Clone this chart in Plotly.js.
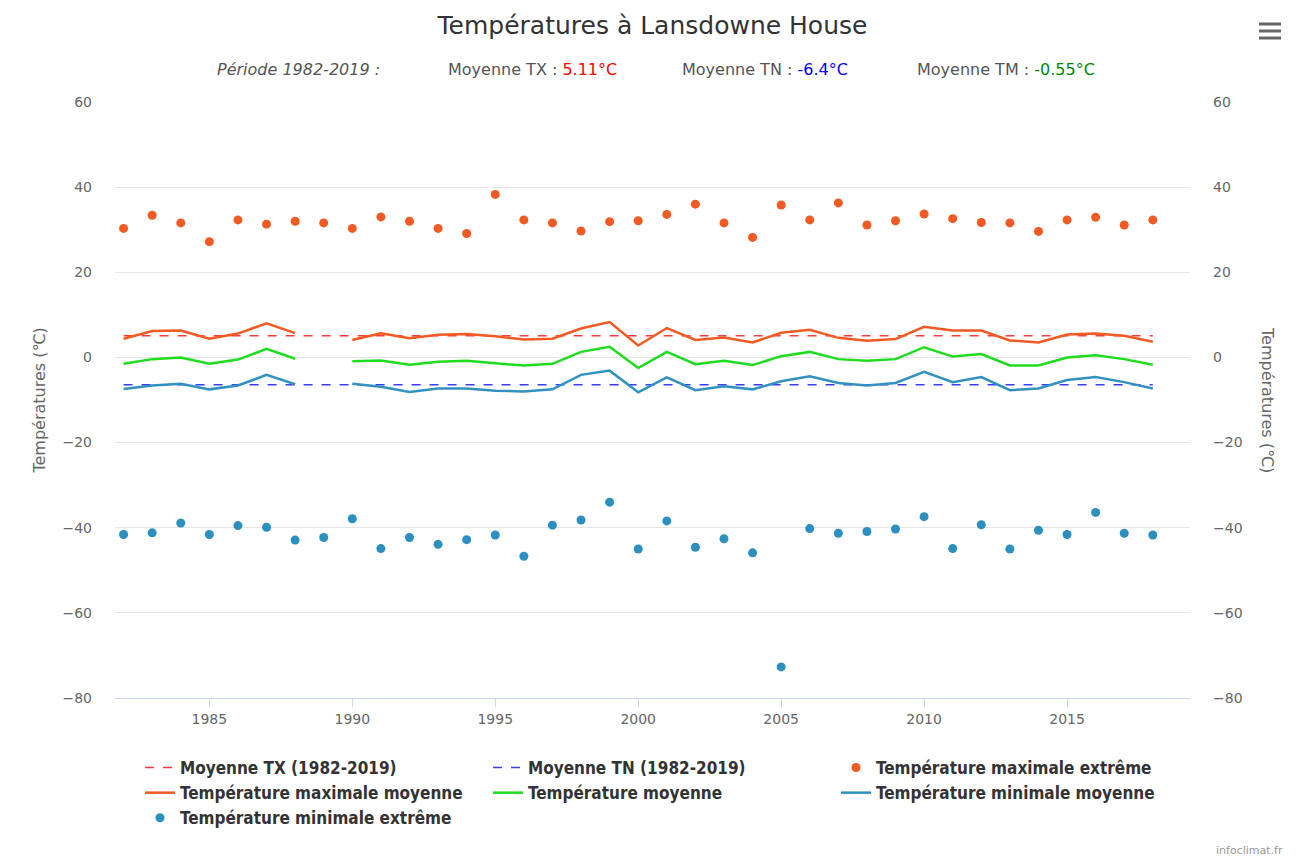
<!DOCTYPE html>
<html>
<head>
<meta charset="utf-8">
<script src="https://cdn.plot.ly/plotly-3.0.1.min.js"></script>
<style>
html,body{margin:0;padding:0;background:#fff;}
#chart{width:1298px;height:857px;}
</style>
</head>
<body>
<div id="chart"></div>
<script>
const years = [1982,1983,1984,1985,1986,1987,1988,1989,1990,1991,1992,1993,1994,1995,1996,1997,1998,1999,2000,2001,2002,2003,2004,2005,2006,2007,2008,2009,2010,2011,2012,2013,2014,2015,2016,2017,2018];

const txExtreme = [30.3,33.4,31.6,27.2,32.3,31.3,32.0,31.6,30.3,33.0,32.0,30.3,29.1,38.3,32.3,31.6,29.7,31.9,32.1,33.6,36.0,31.6,28.2,35.8,32.3,36.3,31.1,32.1,33.7,32.6,31.7,31.6,29.6,32.3,32.9,31.1,32.3];

const txMean = [4.4,6.2,6.3,4.4,5.6,8.0,5.7,null,4.1,5.7,4.5,5.3,5.5,5.0,4.2,4.4,6.8,8.3,2.8,6.9,4.1,4.7,3.5,5.8,6.5,4.6,3.9,4.3,7.2,6.3,6.3,4.0,3.5,5.4,5.6,5.1,3.7];

const tmMean = [-1.5,-0.4,0.0,-1.5,-0.5,2.0,-0.3,null,-0.9,-0.7,-1.7,-1.0,-0.8,-1.4,-1.9,-1.5,1.3,2.5,-2.5,1.3,-1.6,-0.8,-1.8,0.3,1.3,-0.4,-0.8,-0.4,2.4,0.2,0.8,-1.9,-1.9,0.0,0.5,-0.4,-1.7];

const tnMean = [-7.4,-6.6,-6.2,-7.5,-6.6,-4.1,-6.3,null,-6.2,-6.9,-8.1,-7.3,-7.3,-7.8,-8.0,-7.5,-4.1,-3.1,-8.2,-4.7,-7.7,-6.8,-7.5,-5.6,-4.4,-6.0,-6.6,-6.0,-3.4,-5.8,-4.6,-7.7,-7.3,-5.3,-4.6,-5.8,-7.3];

const tnExtreme = [-41.6,-41.2,-38.9,-41.6,-39.5,-39.9,-42.9,-42.3,-37.9,-44.9,-42.3,-43.9,-42.8,-41.7,-46.7,-39.4,-38.2,-34.0,-45.0,-38.4,-44.6,-42.6,-45.9,-72.7,-40.2,-41.3,-40.9,-40.3,-37.4,-44.9,-39.3,-45.0,-40.6,-41.6,-36.4,-41.3,-41.7];

const periodLabel = "Période 1982-2019 :";
const meanTX = 5.11;
const meanTN = -6.4;
const meanTM = -0.55;

const yTicks = [-80,-60,-40,-20,0,20,40,60];
const xTicks = [1985,1990,1995,2000,2005,2010,2015];

const meanTXLine = years.map(() => meanTX);
const meanTNLine = years.map(() => meanTN);

// pixel helpers (plot area 115..1190 x, 102..698 y)
const L = 115, R = 1190, T = 102, B = 698;
const px = x => (x - L) / (R - L);
const py = y => (B - y) / (B - T);

const FONT = '"DejaVu Sans", "Open Sans", sans-serif';
const CFONT = '"DejaVu Sans Condensed", "DejaVu Sans", sans-serif';

const traces = [
  {x: years, y: meanTXLine, name: 'Moyenne TX (1982-2019)', mode: 'lines',
   line: {color: '#ff3b3b', width: 1.5, dash: 'dash'}},
  {x: years, y: meanTNLine, name: 'Moyenne TN (1982-2019)', mode: 'lines',
   line: {color: '#3b3bff', width: 1.5, dash: 'dash'}},
  {x: years, y: txExtreme, name: 'Température maximale extrême', mode: 'markers',
   marker: {color: '#f15a22', size: 9}},
  {x: years, y: txMean, name: 'Température maximale moyenne', mode: 'lines',
   line: {color: '#f15a22', width: 2.5}, connectgaps: false},
  {x: years, y: tmMean, name: 'Température moyenne', mode: 'lines',
   line: {color: '#1fdc1f', width: 2.5}, connectgaps: false},
  {x: years, y: tnMean, name: 'Température minimale moyenne', mode: 'lines',
   line: {color: '#3191c0', width: 2.5}, connectgaps: false},
  {x: years, y: tnExtreme, name: 'Température minimale extrême', mode: 'markers',
   marker: {color: '#2b8fc0', size: 9}},
  {x: years, y: tnExtreme, yaxis: 'y2', mode: 'markers', showlegend: false,
   marker: {opacity: 0}, hoverinfo: 'skip'}
];

const subFont = {family: FONT, size: 16, color: '#555'};
const negLabel = v => v < 0 ? '−' + Math.abs(v) : String(v);
const subAnn = (x, text) => ({xref: 'paper', yref: 'paper', x: px(x), y: py(69), xanchor: 'center', yanchor: 'middle',
                              text: text, showarrow: false, font: subFont});

const layout = {
  width: 1298, height: 857,
  paper_bgcolor: '#fff', plot_bgcolor: '#fff',
  margin: {l: L, r: 1298 - R, t: T, b: 857 - B},
  title: {text: 'Températures à Lansdowne House', x: 0.5, xref: 'paper', y: 1 - 25/857, yanchor: 'middle',
          font: {family: FONT, size: 25, color: '#333'}},
  showlegend: true,
  xaxis: {range: [1981.7, 2019.3], tickvals: xTicks, ticktext: xTicks.map(String),
          showgrid: false, zeroline: false, showline: true, linecolor: '#ccd6eb', linewidth: 1,
          ticks: 'outside', ticklen: 8, tickcolor: '#ccd6eb',
          tickfont: {family: FONT, size: 14, color: '#666'}},
  yaxis: {range: [-80, 60], tickvals: yTicks, ticktext: yTicks.map(negLabel),
          showgrid: true, gridcolor: '#e6e6e6', zeroline: false, showline: false,
          ticks: '', ticklabelstandoff: 22,
          tickfont: {family: FONT, size: 14, color: '#666'},
          title: {text: 'Températures (℃)', font: {family: FONT, size: 16, color: '#666'}, standoff: 12}},
  yaxis2: {range: [-80, 60], overlaying: 'y', side: 'right', tickvals: yTicks,
          ticktext: yTicks.map(negLabel),
          showgrid: false, zeroline: false, showline: false, ticks: '', ticklabelstandoff: 22,
          tickfont: {family: FONT, size: 14, color: '#666'}},
  legend: {orientation: 'h', x: px(140), xanchor: 'left', yref: 'container', y: 1 - 750/857, yanchor: 'top',
           entrywidth: 303, entrywidthmode: 'pixels', tracegroupgap: 0,
           font: {family: CFONT, size: 17, color: '#333', weight: 'bold'},
           itemwidth: 30},
  annotations: [
    subAnn(298, '<i>' + periodLabel + '</i>'),
    subAnn(532, 'Moyenne TX : <span style="color:#ff0000">' + meanTX + '°C</span>'),
    subAnn(765, 'Moyenne TN : <span style="color:#0000ff">' + meanTN + '°C</span>'),
    subAnn(1006, 'Moyenne TM : <span style="color:#008800">' + meanTM + '°C</span>'),
    {xref: 'paper', yref: 'paper', x: px(1268), y: py(400), xanchor: 'center', yanchor: 'middle',
     text: 'Températures (℃)', textangle: 90, showarrow: false,
     font: {family: FONT, size: 16, color: '#666'}},
    {xref: 'paper', yref: 'paper', x: px(1285), y: py(850), xanchor: 'right', yanchor: 'middle', text: 'infoclimat.fr', showarrow: false,
     font: {family: FONT, size: 11, color: '#999'}}
  ],
  shapes: [24, 31, 38].map(yy => ({type: 'line', xref: 'paper', yref: 'paper',
     x0: px(1259), x1: px(1281), y0: py(yy), y1: py(yy), line: {color: '#666', width: 3}}))
};

Plotly.newPlot('chart', traces, layout, {displayModeBar: false, staticPlot: false});
</script>
</body>
</html>
